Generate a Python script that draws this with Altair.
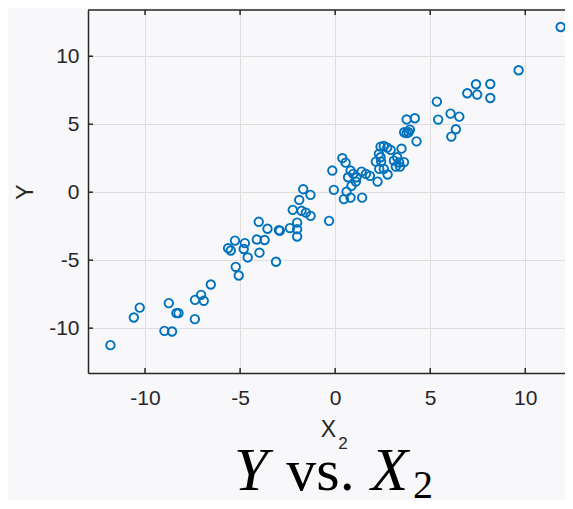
import altair as alt
import pandas as pd

# ---- data ----
x2_vals = [-11.82, -10.59, -10.28, -8.98, -8.58, -8.75, -8.35, -8.24, -7.38, -7.37,
           -7.05, -6.91, -6.54, -5.23, -5.07, -4.60, -3.98, -3.11, -5.63, -5.49,
           -5.27, -4.75, -4.81, -4.12, -3.71, -4.02, -3.56, -2.96, -2.91, -2.38,
           -2.00, -2.00, -2.00, -2.23, -1.89, -1.68, -1.30, -1.77, -1.54, -1.29,
           -0.32, -0.15, -0.07, 0.38, 0.55, 0.81, 0.68, 0.95, 1.13, 1.09,
           0.86, 0.60, 0.46, 0.81, 1.42, 1.39, 1.62, 1.83, 2.23, 2.39,
           2.56, 2.74, 2.92, 2.30, 2.39, 2.14, 2.42, 2.32, 2.56, 2.76,
           3.49, 3.26, 3.09, 3.37, 3.62, 3.19, 3.41, 3.76, 4.19, 3.93,
           3.76, 3.63, 3.86, 4.28, 11.86, 9.65, 7.41, 8.16, 6.95, 7.47,
           8.16, 5.35, 5.42, 6.07, 6.53, 6.35, 6.11]
y_vals = [-11.25, -9.22, -8.49, -10.20, -10.25, -8.16, -8.90, -8.90, -9.34, -7.92,
          -7.55, -7.99, -6.79, -5.49, -6.13, -4.80, -4.45, -5.12, -4.12, -4.29,
          -3.56, -3.75, -4.18, -3.48, -3.52, -2.18, -2.69, -2.79, -2.84, -2.64,
          -2.24, -2.72, -3.26, -1.30, -0.57, 0.22, -0.20, -1.37, -1.50, -1.74,
          -2.11, 1.59, 0.17, 2.50, 2.17, 1.59, 1.10, 1.35, 1.10, 0.78,
          0.46, 0.04, -0.51, -0.40, -0.40, 1.51, 1.35, 1.20, 0.78, 3.35,
          3.40, 3.28, 3.11, 2.82, 2.57, 2.25, 2.25, 1.71, 1.71, 1.30,
          3.20, 2.57, 2.32, 2.18, 2.21, 1.88, 1.88, 5.35, 5.44, 4.60,
          4.34, 4.41, 4.41, 3.74, 12.15, 8.97, 7.94, 7.96, 7.28, 7.18,
          6.93, 6.66, 5.34, 5.78, 5.56, 4.63, 4.09]
tick_vals = [-10, -5, 0, 5, 10]
x_domain = [-13, 12.09]
y_domain = [-13.3, 13.4]
y_title = "Y"
x_title_main, x_title_sub = "X", "2"
big_title = ["Y", "vs.", "X", "2"]

df = pd.DataFrame({"x2": x2_vals, "y": y_vals})
tdf = pd.DataFrame({"t": tick_vals})
one = pd.DataFrame({"a": [0]})

W, H = 477, 363
INK = "#262626"
BLUE = "#0072BD"
BG = "#f8f8fa"
GRID = "#dedede"
FONT = "Liberation Sans"
SERIF = "Liberation Serif"

xscale = alt.Scale(domain=x_domain, nice=False, zero=False)
yscale = alt.Scale(domain=y_domain, nice=False, zero=False)

axis_common = dict(
    values=tick_vals, title=None, grid=True, gridColor=GRID, gridWidth=1,
    domainColor=INK, domainWidth=1.5, ticks=False, labelFontSize=21,
    labelFont=FONT, labelColor=INK, labelExpr="'' + datum.value",
)

points = alt.Chart(df).mark_point(
    shape="circle", filled=False, size=72, strokeWidth=1.9, color=BLUE, opacity=1
).encode(
    x=alt.X("x2:Q", scale=xscale, axis=alt.Axis(labelPadding=14, **axis_common)),
    y=alt.Y("y:Q", scale=yscale, axis=alt.Axis(labelPadding=9, **axis_common)),
)

tick_style = dict(color=INK, strokeWidth=1.5)
xt_bottom = alt.Chart(tdf).mark_rule(**tick_style).encode(
    x=alt.X("t:Q", scale=xscale), y=alt.value(H), y2=alt.value(H - 5))
xt_top = alt.Chart(tdf).mark_rule(**tick_style).encode(
    x=alt.X("t:Q", scale=xscale), y=alt.value(0), y2=alt.value(5))
yt_left = alt.Chart(tdf).mark_rule(**tick_style).encode(
    y=alt.Y("t:Q", scale=yscale), x=alt.value(0), x2=alt.value(5))
top_border = alt.Chart(one).mark_rule(color=INK, strokeWidth=1.5).encode(
    x=alt.value(0), x2=alt.value(W), y=alt.value(0))

def txt(s, x, y, size, font=FONT, style="normal", angle=0, color=INK, align="center"):
    return alt.Chart(one).mark_text(
        text=s, font=font, fontSize=size, fontStyle=style, color=color,
        align=align, baseline="alphabetic", angle=angle,
    ).encode(x=alt.value(x), y=alt.value(y))

ylab = alt.Chart(one).mark_text(
    text=y_title, font=FONT, fontSize=23, color=INK, align="center",
    baseline="middle", angle=270,
).encode(x=alt.value(-62), y=alt.value(182))

xlab1 = txt(x_title_main, 240.5, 426.5, 23)
xlab2 = txt(x_title_sub, 255, 439, 17)

t1 = txt(big_title[0], 163, 480, 61, font=SERIF, style="italic", color="#000000")
t2 = txt(big_title[1], 232.5, 480, 60, font=SERIF, color="#000000")
t3 = txt(big_title[2], 301.5, 480, 61, font=SERIF, style="italic", color="#000000")
t4 = txt(big_title[3], 335, 488, 40, font=SERIF, color="#000000")

chart = alt.layer(
    points, xt_bottom, xt_top, yt_left, top_border,
    ylab, xlab1, xlab2, t1, t2, t3, t4,
).properties(
    width=W, height=H, background=BG,
    padding={"left": 80, "top": 2, "right": 0, "bottom": 127},
    autosize=alt.AutoSizeParams(type="none"),
).configure_view(stroke=None)

chart.save("out.html", embed_options={"renderer": "svg", "actions": False})
